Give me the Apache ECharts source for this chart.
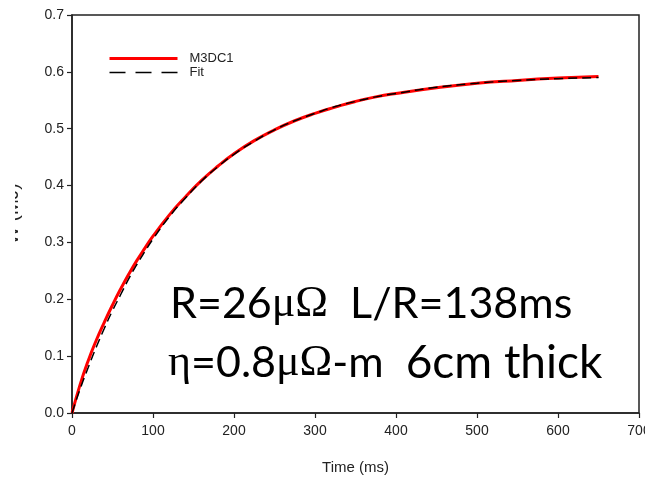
<!DOCTYPE html>
<html>
<head>
<meta charset="utf-8">
<script src="https://cdn.jsdelivr.net/npm/echarts@6/dist/echarts.min.js"></script>
<style>
  html, body { margin: 0; padding: 0; background: #fff; }
  #chart { width: 645px; height: 485px; }
</style>
</head>
<body>
<div id="chart"></div>
<script>
// Stored energy build-up after the current ramp (time in ms, energy in MJ)
const timeMs = [0, 10, 20, 30, 40, 50, 60, 70, 80, 90, 100, 120, 140, 160, 180, 200,
                225, 250, 275, 300, 325, 350, 375, 400, 450, 500, 550, 600, 650];
const m3dc1 = [0, 0.050, 0.092, 0.128, 0.160, 0.190, 0.218, 0.244, 0.268, 0.290, 0.311,
               0.348, 0.380, 0.409, 0.434, 0.456, 0.479, 0.498, 0.514, 0.527, 0.538,
               0.548, 0.556, 0.562, 0.572, 0.580, 0.585, 0.589, 0.592];
const fit = [0, 0.042, 0.080, 0.116, 0.149, 0.180, 0.208, 0.236, 0.261, 0.284, 0.306,
             0.345, 0.378, 0.408, 0.433, 0.455, 0.478, 0.498, 0.514, 0.527, 0.539,
             0.548, 0.556, 0.562, 0.573, 0.580, 0.585, 0.588, 0.590];
const seriesNames = ['M3DC1', 'Fit'];
const xTicks = [0, 100, 200, 300, 400, 500, 600, 700];
const yTicks = [0.0, 0.1, 0.2, 0.3, 0.4, 0.5, 0.6, 0.7];

const pairs = (xs, ys) => xs.map((x, i) => [x, ys[i]]);

const chart = echarts.init(document.getElementById('chart'), null, { renderer: 'canvas' });
const axisFont = { fontFamily: 'Liberation Sans, Arial, sans-serif', color: '#222' };

chart.setOption({
  animation: false,
  backgroundColor: '#fff',
  grid: {
    left: 72, right: 6, top: 15, bottom: 72,
    containLabel: false, outerBoundsMode: 'none',
    show: true, borderColor: '#222', borderWidth: 1.5
  },
  legend: {
    orient: 'vertical', left: 108, top: 52, padding: 0,
    itemWidth: 68, itemHeight: 12, itemGap: 1,
    itemStyle: { opacity: 0 },
    textStyle: Object.assign({ fontSize: 13, padding: [0, 0, 0, 7] }, axisFont),
    data: [
      { name: seriesNames[0], lineStyle: { width: 3, color: '#ff0000' } },
      { name: seriesNames[1], lineStyle: { width: 1.5, color: '#000', type: [16, 10] } }
    ]
  },
  xAxis: {
    type: 'value', min: xTicks[0], max: xTicks[xTicks.length - 1], interval: 100,
    name: 'Time (ms)', nameLocation: 'middle', nameGap: 47,
    nameTextStyle: Object.assign({ fontSize: 15 }, axisFont),
    axisLine: { lineStyle: { color: '#222', width: 1.5 } },
    axisTick: { length: 5, lineStyle: { color: '#222', width: 1.2 } },
    axisLabel: Object.assign({ fontSize: 14, margin: 11 }, axisFont),
    splitLine: { show: false }
  },
  yAxis: {
    type: 'value', min: yTicks[0], max: yTicks[yTicks.length - 1], interval: 0.1,
    name: 'W (MJ)', nameLocation: 'middle', nameGap: 50, nameRotate: 90,
    nameTextStyle: Object.assign({ fontSize: 19 }, axisFont),
    axisLine: { lineStyle: { color: '#222', width: 1.5 } },
    axisTick: { length: 5, lineStyle: { color: '#222', width: 1.2 } },
    axisLabel: Object.assign({ fontSize: 14, margin: 8, formatter: v => v.toFixed(1) }, axisFont),
    splitLine: { show: false }
  },
  series: [
    {
      name: seriesNames[0], type: 'line', data: pairs(timeMs, m3dc1),
      smooth: true, symbol: 'none', z: 2,
      lineStyle: { color: '#ff0000', width: 3 }, itemStyle: { color: '#ff0000' }
    },
    {
      name: seriesNames[1], type: 'line', data: pairs(timeMs, fit),
      smooth: true, symbol: 'none', z: 3,
      lineStyle: { color: '#000', width: 1.5, type: [9, 5] }, itemStyle: { color: '#000' }
    }
  ],
  graphic: [
    // slide text box partly covering the y-axis title
    { type: 'rect', left: 0, top: 150, z: 100, shape: { width: 15, height: 130 }, style: { fill: '#fff' } },
    {
      type: 'text', left: 170, top: 282, z: 50,
      style: {
        text: 'R=26{s|μΩ}  L/R=138ms',
        font: '43px Lato, sans-serif', fill: '#000',
        rich: { s: { fontFamily: 'Liberation Serif', fontSize: 44, fill: '#000' } }
      }
    },
    {
      type: 'text', left: 168, top: 340, z: 50,
      style: {
        text: '{s|η}=0.8{s|μΩ}-m  {w|6cm thick}',
        font: '43px Lato, sans-serif', fill: '#000',
        rich: {
          s: { fontFamily: 'Liberation Serif', fontSize: 44, fill: '#000' },
          w: { fontFamily: 'Lato, sans-serif', fontSize: 46, fill: '#000' }
        }
      }
    }
  ]
});
</script>
</body>
</html>
